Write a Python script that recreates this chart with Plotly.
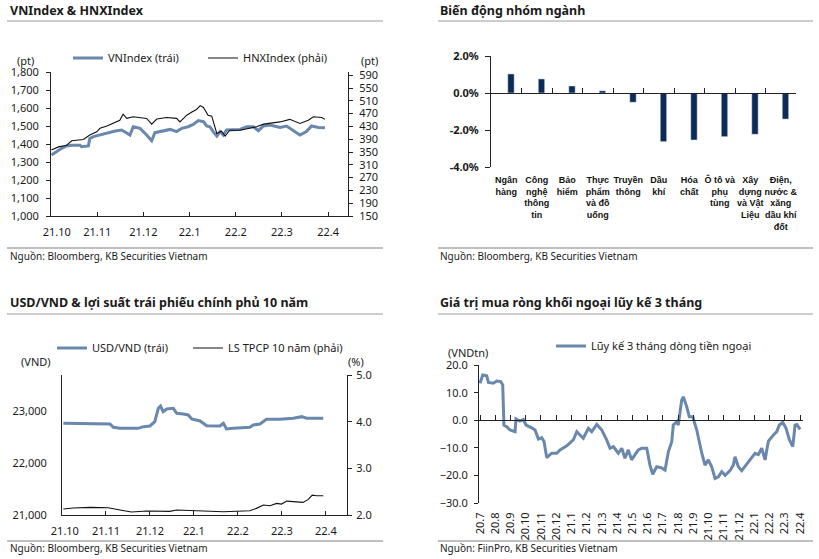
import plotly.graph_objects as go

# ---------------- DATA ----------------
p1_tick_labels = ["\u00a0\u00a0\u00a0\u00a021.10", "21.11", "21.12", "22.1", "22.2", "22.3", "22.4"]
p3_tick_labels = ["\u00a0\u00a021.10", "21.11", "21.12", "22.1", "22.2", "22.3", "22.4"]

vn_month = [0.01, 0.12, 0.23, 0.34, 0.45, 0.63, 0.66, 0.81, 0.84, 0.92, 1.06, 1.21, 1.39, 1.53,
            1.64, 1.71, 1.78, 1.93, 2.07, 2.18, 2.25, 2.43, 2.58, 2.72, 2.83, 2.97, 3.08, 3.19,
            3.30, 3.37, 3.44, 3.51, 3.59, 3.66, 3.73, 3.80, 3.95, 4.09, 4.24, 4.38, 4.49, 4.60,
            4.74, 4.96, 5.10, 5.25, 5.39, 5.53, 5.64, 5.79, 5.93]
vn_value = [1339, 1357, 1376, 1389, 1393, 1393, 1385, 1389, 1431, 1441, 1450, 1463, 1472, 1478,
            1459, 1450, 1496, 1487, 1450, 1418, 1463, 1472, 1481, 1469, 1487, 1496, 1509, 1530,
            1524, 1500, 1496, 1469, 1444, 1469, 1450, 1478, 1481, 1481, 1496, 1496, 1474, 1500,
            1505, 1492, 1500, 1472, 1450, 1469, 1500, 1492, 1490]

hnx_month = [0.01, 0.16, 0.34, 0.45, 0.70, 0.84, 0.99, 1.06, 1.21, 1.39, 1.49, 1.56, 1.64, 1.78,
             2.07, 2.18, 2.29, 2.50, 2.72, 2.79, 2.94, 3.05, 3.15, 3.23, 3.30, 3.40, 3.48, 3.59,
             3.69, 3.77, 3.87, 4.09, 4.27, 4.45, 4.60, 4.74, 4.96, 5.17, 5.39, 5.57, 5.68, 5.86, 5.93]
hnx_value = [356, 366, 371, 385, 389, 403, 413, 424, 431, 441, 449, 468, 455, 460,
             455, 437, 453, 458, 455, 444, 465, 475, 483, 495, 489, 465, 462, 408,
             415, 400, 418, 418, 424, 429, 437, 439, 444, 452, 439, 449, 460, 458, 452]

sector_names = ["Ngân<br>hàng", "Công<br>nghệ<br>thông<br>tin", "Bảo<br>hiểm",
                "Thực<br>phẩm<br>và đồ<br>uống", "Truyền<br>thông", "Dầu<br>khí",
                "Hóa<br>chất", "Ô tô và<br>phụ<br>tùng", "Xây<br>dựng<br>và Vật<br>Liệu",
                "Điện,<br>nước &amp;<br>xăng<br>dầu khí<br>đốt"]
sector_change = [1.03, 0.76, 0.38, 0.12, -0.50, -2.63, -2.54, -2.36, -2.23, -1.41]

usd_month = [0.03, 1.09, 1.17, 1.32, 1.73, 1.85, 2.00, 2.11, 2.19, 2.24, 2.30, 2.38, 2.53, 2.61,
             2.76, 2.87, 2.95, 3.14, 3.29, 3.59, 3.67, 3.74, 3.89, 4.27, 4.35, 4.50, 4.65, 4.95,
             5.26, 5.45, 5.56, 5.94]
usd_value = [22763, 22750, 22687, 22667, 22667, 22698, 22712, 22794, 23052, 23096, 22987, 23038,
             23052, 22955, 22942, 22923, 22846, 22808, 22717, 22712, 22763, 22654, 22667, 22686,
             22731, 22750, 22840, 22840, 22860, 22891, 22860, 22860]

bond_month = [0.03, 0.26, 0.64, 1.05, 1.32, 1.58, 1.93, 2.45, 2.61, 2.98, 3.36, 3.67, 4.27, 4.42,
              4.58, 4.73, 4.88, 4.99, 5.11, 5.26, 5.48, 5.60, 5.69, 5.79, 5.94]
bond_value = [2.128, 2.149, 2.163, 2.156, 2.107, 2.064, 2.085, 2.078, 2.107, 2.092, 2.085, 2.071,
              2.092, 2.142, 2.213, 2.199, 2.249, 2.234, 2.298, 2.284, 2.270, 2.334, 2.426, 2.412, 2.412]

flow_tick_labels = ["20.7", "20.8", "20.9", "20.10", "20.11", "20.12", "21.1", "21.2", "21.3",
                    "21.4", "21.5", "21.6", "21.7", "21.8", "21.9", "21.10", "21.11", "21.12",
                    "22.1", "22.2", "22.3", "22.4"]
flow_month = [0.00, 0.18, 0.44, 0.55, 0.87, 1.10, 1.36, 1.49, 1.57, 1.75, 1.97, 2.30, 2.36, 2.62,
              2.84, 3.02, 3.39, 3.61, 3.83, 4.05, 4.20, 4.38, 4.70, 5.03, 5.25, 5.69, 6.12, 6.35,
              6.56, 6.78, 7.11, 7.33, 7.66, 7.99, 8.31, 8.53, 8.75, 9.07, 9.30, 9.51, 9.73, 9.95,
              10.17, 10.39, 10.61, 10.94, 11.15, 11.33, 11.59, 11.92, 12.14, 12.36, 12.58, 12.68,
              12.91, 13.01, 13.23, 13.34, 13.56, 13.73, 13.96, 14.22, 14.55, 14.76, 14.98, 15.20,
              15.42, 15.64, 15.86, 16.08, 16.40, 16.62, 16.73, 16.95, 17.17, 17.50, 17.83, 18.04,
              18.26, 18.48, 18.70, 18.92, 19.25, 19.47, 19.64, 19.86, 20.08, 20.30, 20.52, 20.67,
              20.78, 21.00]
flow_value = [13.4, 16.4, 16.1, 13.7, 13.4, 14.2, 14.0, 12.8, -1.7, -2.3, -3.5, -4.1, 0.5, -0.3,
              0.3, -1.7, -2.7, -3.5, -6.8, -6.3, -7.7, -13.5, -11.9, -11.9, -10.7, -9.2, -7.1, -4.1,
              -5.3, -6.5, -2.9, -4.1, -1.5, -3.5, -7.1, -10.1, -9.5, -11.9, -10.1, -13.7, -10.7, -14.3,
              -12.4, -10.7, -10.1, -10.1, -16.2, -19.5, -16.8, -17.2, -18.0, -11.3, -7.7, -1.7,
              -0.5, -1.7, 7.3, 8.5, 4.9, 1.3, 1.3, -3.5, -11.9, -16.2, -14.3, -16.8,
              -21.0, -20.4, -18.6, -19.9, -18.2, -16.2, -13.2, -16.8, -18.2, -15.9, -13.7, -11.9,
              -12.4, -10.1, -14.3, -7.5, -5.3, -4.1, -1.7, -0.7, -2.9, -7.1, -9.5, -1.7,
              -1.5, -3.3]

# ---------------- LAYOUT HELPERS ----------------
W, H = 819, 559
def fx(p):
    return p / W
def fy(p):
    return 1 - p / H

FONT = "Noto Sans"
BLUE = "#6a87ad"
NAVY = "#0c2b57"
INK = "#1a1a1a"
AX = "#222222"
tickf = dict(family=FONT, size=11, color=INK)

fig = go.Figure()

# Panel 1
fig.add_trace(go.Scatter(x=vn_month, y=vn_value, name="VNIndex (trái)", mode="lines",
                         line=dict(color=BLUE, width=3), xaxis="x", yaxis="y", legend="legend"))
fig.add_trace(go.Scatter(x=hnx_month, y=hnx_value, name="HNXIndex (phải)", mode="lines",
                         line=dict(color="#111111", width=1.1), xaxis="x", yaxis="y2", legend="legend2"))
# Panel 2 (bars on the zero-line axis; transparent twin on the label axis)
fig.add_trace(go.Bar(x=list(range(len(sector_change))), y=sector_change, marker_color=NAVY,
                     width=0.21, offset=0.05, xaxis="x3", yaxis="y3", showlegend=False))
fig.add_trace(go.Scatter(x=list(range(len(sector_change))), y=sector_change, mode="markers",
                         marker=dict(opacity=0), hoverinfo="skip", xaxis="x4", yaxis="y3",
                         showlegend=False))
# Panel 3
fig.add_trace(go.Scatter(x=usd_month, y=usd_value, name="USD/VND (trái)", mode="lines",
                         line=dict(color=BLUE, width=3), xaxis="x5", yaxis="y5", legend="legend3"))
fig.add_trace(go.Scatter(x=bond_month, y=bond_value, name="LS TPCP 10 năm (phải)", mode="lines",
                         line=dict(color="#111111", width=1.1), xaxis="x5", yaxis="y6", legend="legend4"))
# Panel 4
fig.add_trace(go.Scatter(x=flow_month, y=flow_value, name="Lũy kế 3 tháng dòng tiền ngoại",
                         mode="lines", line=dict(color=BLUE, width=3), xaxis="x7", yaxis="y7",
                         legend="legend5"))
fig.add_trace(go.Scatter(x=flow_month, y=flow_value, mode="markers", marker=dict(opacity=0),
                         hoverinfo="skip", xaxis="x8", yaxis="y7", showlegend=False))

common = dict(showgrid=False, zeroline=False, linecolor=AX, linewidth=1, tickcolor=AX,
              tickfont=tickf, fixedrange=True, automargin=False)

def leg(x, y):
    return dict(orientation="h", x=fx(x), y=fy(y), xanchor="left", yanchor="middle",
                font=dict(family=FONT, size=11, color=INK), bgcolor="rgba(0,0,0,0)",
                itemwidth=30, borderwidth=0)

fig.update_layout(
    width=W, height=H, margin=dict(l=0, r=0, t=0, b=0, pad=0), autosize=False,
    paper_bgcolor="white", plot_bgcolor="white",
    font=dict(family=FONT, color=INK),
    xaxis=dict(domain=[fx(51), fx(348)], range=[0, 6.43], anchor="y",
               tickvals=list(range(7)), ticktext=p1_tick_labels, ticks="inside", ticklen=4,
               showline=True, ticklabelstandoff=6, **common),
    yaxis=dict(domain=[fy(216), fy(72)], range=[1000, 1800], anchor="x",
               tickvals=list(range(1000, 1801, 100)), tickformat=",d", ticks="outside", ticklen=4,
               showline=True, ticklabelstandoff=5, **common),
    yaxis2=dict(overlaying="y", side="right", anchor="x", range=[150, 600],
                tickvals=list(range(150, 591, 40)), ticks="outside", ticklen=4,
                showline=True, ticklabelstandoff=4, **common),
    xaxis3=dict(domain=[fx(491), fx(796)], type="linear", range=[-0.5, 9.5], anchor="free",
                position=fy(93), showline=True, ticks="inside",
                tickvals=[i + 0.5 for i in range(-1, 10)], ticklen=5,
                showticklabels=False, **common),
    xaxis4=dict(domain=[fx(491), fx(796)], overlaying="x3", anchor="y3", type="linear",
                range=[-0.5, 9.5], tickvals=list(range(10)), tickangle=0,
                ticktext=["<b>" + s.replace("<br>", "</b><br><b>") + "</b>" for s in sector_names],
                showline=False, ticks="", showgrid=False, zeroline=False, fixedrange=True,
                automargin=False,
                tickfont=dict(family="Liberation Sans", size=9, color="#111111"),
                ticklabelstandoff=6),
    yaxis3=dict(domain=[fy(167), fy(56)], range=[-4, 2], anchor="x3",
                tickvals=[-4, -2, 0, 2], ticktext=["<b>-4.0%</b>", "<b>-2.0%</b>", "<b>0.0%</b>", "<b>2.0%</b>"],
                ticks="outside", ticklen=5, showline=True, ticklabelstandoff=4, **common),
    xaxis5=dict(domain=[fx(62), fx(347)], range=[0, 6.48], anchor="y5",
                tickvals=list(range(7)), ticktext=p3_tick_labels, ticks="inside", ticklen=4,
                showline=True, ticklabelstandoff=6, **common),
    yaxis5=dict(domain=[fy(515), fy(375)], range=[21000, 23692], anchor="x5",
                tickvals=[21000, 22000, 23000], tickformat=",d", ticks="", showline=True,
                ticklabelstandoff=12, **common),
    yaxis6=dict(overlaying="y5", side="right", anchor="x5", range=[2, 5],
                tickvals=[2, 3, 4, 5], tickformat=".1f", ticks="outside", ticklen=4,
                showline=True, ticklabelstandoff=2, **common),
    xaxis7=dict(domain=[fx(479), fx(803)], range=[-0.066, 21.19], anchor="free",
                position=fy(420.3), showline=True, ticks="inside", ticklen=5,
                tickvals=list(range(22)), showticklabels=False, **common),
    xaxis8=dict(domain=[fx(479), fx(803)], overlaying="x7", anchor="y7", range=[-0.066, 21.19],
                tickvals=list(range(22)), ticktext=flow_tick_labels, tickangle=-90,
                showline=False, ticks="", showgrid=False, zeroline=False, fixedrange=True,
                automargin=False, tickfont=tickf, ticklabelstandoff=6),
    yaxis7=dict(domain=[fy(503.3), fy(365)], range=[-30, 20], anchor="x7",
                tickvals=list(range(-30, 21, 10)), tickformat=".1f", ticks="outside", ticklen=4,
                showline=True, ticklabelstandoff=4, **common),
    legend=leg(68, 58),
    legend2=leg(203, 58),
    legend3=leg(52, 348),
    legend4=leg(188, 348),
    legend5=leg(551, 346),
)

# titles, separators, sources, unit labels
titles = [("VNIndex &amp; HNXIndex", 8, 10), ("Biến động nhóm ngành", 438, 10),
          ("USD/VND &amp; lợi suất trái phiếu chính phủ 10 năm", 8, 302),
          ("Giá trị mua ròng khối ngoại lũy kế 3 tháng", 438, 302)]
for t, x, y in titles:
    fig.add_annotation(text="<b>" + t + "</b>", x=fx(x), y=fy(y), xref="paper", yref="paper",
                       xanchor="left", yanchor="middle", showarrow=False,
                       font=dict(family=FONT, size=12.5, color=INK))

sources = [("Nguồn: Bloomberg, KB Securities Vietnam", 8, 256),
           ("Nguồn: Bloomberg, KB Securities Vietnam", 438, 256),
           ("Nguồn: Bloomberg, KB Securities Vietnam", 8, 548),
           ("Nguồn: FiinPro, KB Securities Vietnam", 438, 548)]
for t, x, y in sources:
    fig.add_annotation(text=t, x=fx(x), y=fy(y), xref="paper", yref="paper",
                       xanchor="left", yanchor="middle", showarrow=False,
                       font=dict(family=FONT, size=10, color=INK))

units = [("(pt)", 15, 60), ("(pt)", 359, 60), ("(VND)", 19, 361), ("(%)", 346, 361),
         ("(VNDtn)", 446, 352)]
for t, x, y in units:
    fig.add_annotation(text=t, x=fx(x), y=fy(y), xref="paper", yref="paper",
                       xanchor="left", yanchor="middle", showarrow=False,
                       font=dict(family=FONT, size=11, color=INK))

for (x0, x1, y, w, c) in [(7, 383, 21, 1, "#9a9a9a"), (438, 813, 21, 1, "#9a9a9a"),
                          (7, 383, 314, 1, "#9a9a9a"), (438, 813, 314, 1, "#9a9a9a"),
                          (7, 383, 248, 2, "#c0c0c0"), (438, 813, 248, 2, "#c0c0c0"),
                          (7, 383, 541, 2, "#c0c0c0"), (438, 813, 541, 2, "#c0c0c0")]:
    fig.add_shape(type="line", xref="paper", yref="paper", x0=fx(x0), x1=fx(x1),
                  y0=fy(y), y1=fy(y), line=dict(color=c, width=w))

fig.write_html("out.html", config={"displayModeBar": False},
               post_script="document.body.style.margin='0';document.body.style.overflow='hidden';")
